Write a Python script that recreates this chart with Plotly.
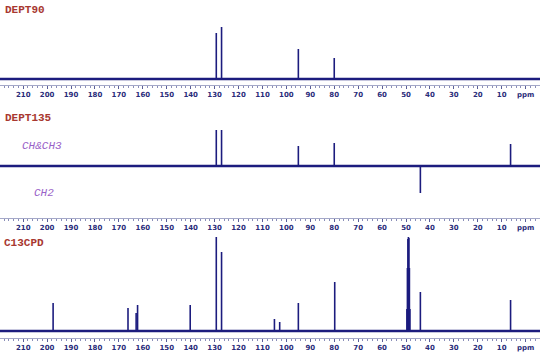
import plotly.graph_objects as go

# ---- data (ppm, intensity) ----
dept90_ppm = [129.3, 127.1, 95.0, 80.0]
dept90_int = [46, 52, 30, 21]

dept135_ppm = [129.3, 127.1, 95.0, 80.0, 44.0, 6.3]
dept135_int = [36, 36, 20, 23, -27, 22]

c13_ppm = [197.5, 166.2, 162.8, 162.2, 140.2, 129.3, 127.1, 105.0, 102.8, 95.0, 79.8,
           49.63, 49.42, 49.21, 49.0, 48.79, 48.58, 48.37, 44.0, 6.3]
c13_int = [28, 23, 18, 26, 26, 94, 79, 12, 9, 28, 49,
           22, 63, 92, 94, 93, 63, 22, 39, 31]

tick_vals = [210, 200, 190, 180, 170, 160, 150, 140, 130, 120, 110, 100,
             90, 80, 70, 60, 50, 40, 30, 20, 10, 0]
tick_text = ["210", "200", "190", "180", "170", "160", "150", "140", "130", "120", "110", "100",
             "90", "80", "70", "60", "50", "40", "30", "20", "10", "ppm"]

titles = ["DEPT90", "DEPT135", "C13CPD"]
x_range = [219.7, -6.0]

H = 356.0
def pf(px):
    return 1 - px / H

LINE = "#1c1c7e"
fig = go.Figure()

panels = [
    (dept90_ppm, dept90_int, [pf(85), pf(15)], [-6, 64]),
    (dept135_ppm, dept135_int, [pf(218), pf(110)], [-52, 56]),
    (c13_ppm, c13_int, [pf(338), pf(232)], [-7, 99]),
]

for i, (pp, ii, dom, yr) in enumerate(panels):
    n = i + 1
    xa = "x" if n == 1 else f"x{n}"
    ya = "y" if n == 1 else f"y{n}"
    # baseline
    fig.add_trace(go.Scatter(x=[x_range[0], x_range[1]], y=[0, 0], mode="lines",
                             line=dict(color=LINE, width=2.6), xaxis=xa, yaxis=ya,
                             hoverinfo="skip", showlegend=False))
    xs, ys = [], []
    for p, v in zip(pp, ii):
        xs += [p, p, None]
        ys += [0, v, None]
    fig.add_trace(go.Scatter(x=xs, y=ys, mode="lines",
                             line=dict(color=LINE, width=1.6), xaxis=xa, yaxis=ya,
                             showlegend=False))
    xkey = "xaxis" if n == 1 else f"xaxis{n}"
    ykey = "yaxis" if n == 1 else f"yaxis{n}"
    fig.update_layout(**{
        xkey: dict(domain=[0, 1], range=x_range, anchor=ya, showgrid=False,
                   zeroline=False, showline=True, linecolor="#a4a8c8", linewidth=1,
                   tickmode="array", tickvals=tick_vals, ticktext=tick_text,
                   ticks="outside", ticklen=3, tickcolor="#5a5e98", tickwidth=1,
                   ticklabelstandoff=0,
                   tickfont=dict(family="DejaVu Sans", size=7, color="#2a2c7a", weight="bold"),
                   minor=dict(dtick=2, ticks="outside", ticklen=2, tickcolor="#8a8eb8",
                              tick0=0, showgrid=False),
                   fixedrange=True),
        ykey: dict(domain=dom, range=yr, anchor=xa, visible=False, showgrid=False,
                   zeroline=False, fixedrange=True),
    })

annotations = [
    dict(text=titles[0], x=3 / 540, y=pf(10)),
    dict(text=titles[1], x=3 / 540, y=pf(118)),
    dict(text=titles[2], x=2 / 540, y=pf(243)),
]
anns = []
for a in annotations:
    anns.append(dict(text=a["text"], x=a["x"], y=a["y"], xref="paper", yref="paper",
                     xanchor="left", yanchor="middle", showarrow=False,
                     font=dict(family="Liberation Mono", size=11, color="#a83830", weight="bold")))
anns.append(dict(text="CH&CH3", x=20 / 540, y=pf(146), xref="paper", yref="paper",
                 xanchor="left", yanchor="middle", showarrow=False,
                 font=dict(family="Liberation Mono", size=11, color="#9a62c8", style="italic")))
anns.append(dict(text="CH2", x=32 / 540, y=pf(193), xref="paper", yref="paper",
                 xanchor="left", yanchor="middle", showarrow=False,
                 font=dict(family="Liberation Mono", size=11, color="#9a62c8", style="italic")))

fig.update_layout(width=540, height=356, margin=dict(l=0, r=0, t=0, b=0),
                  paper_bgcolor="white", plot_bgcolor="white", annotations=anns)

fig.write_html("out.html", config={"displayModeBar": False},
               post_script="document.body.style.margin='0';document.body.style.overflow='hidden';")
